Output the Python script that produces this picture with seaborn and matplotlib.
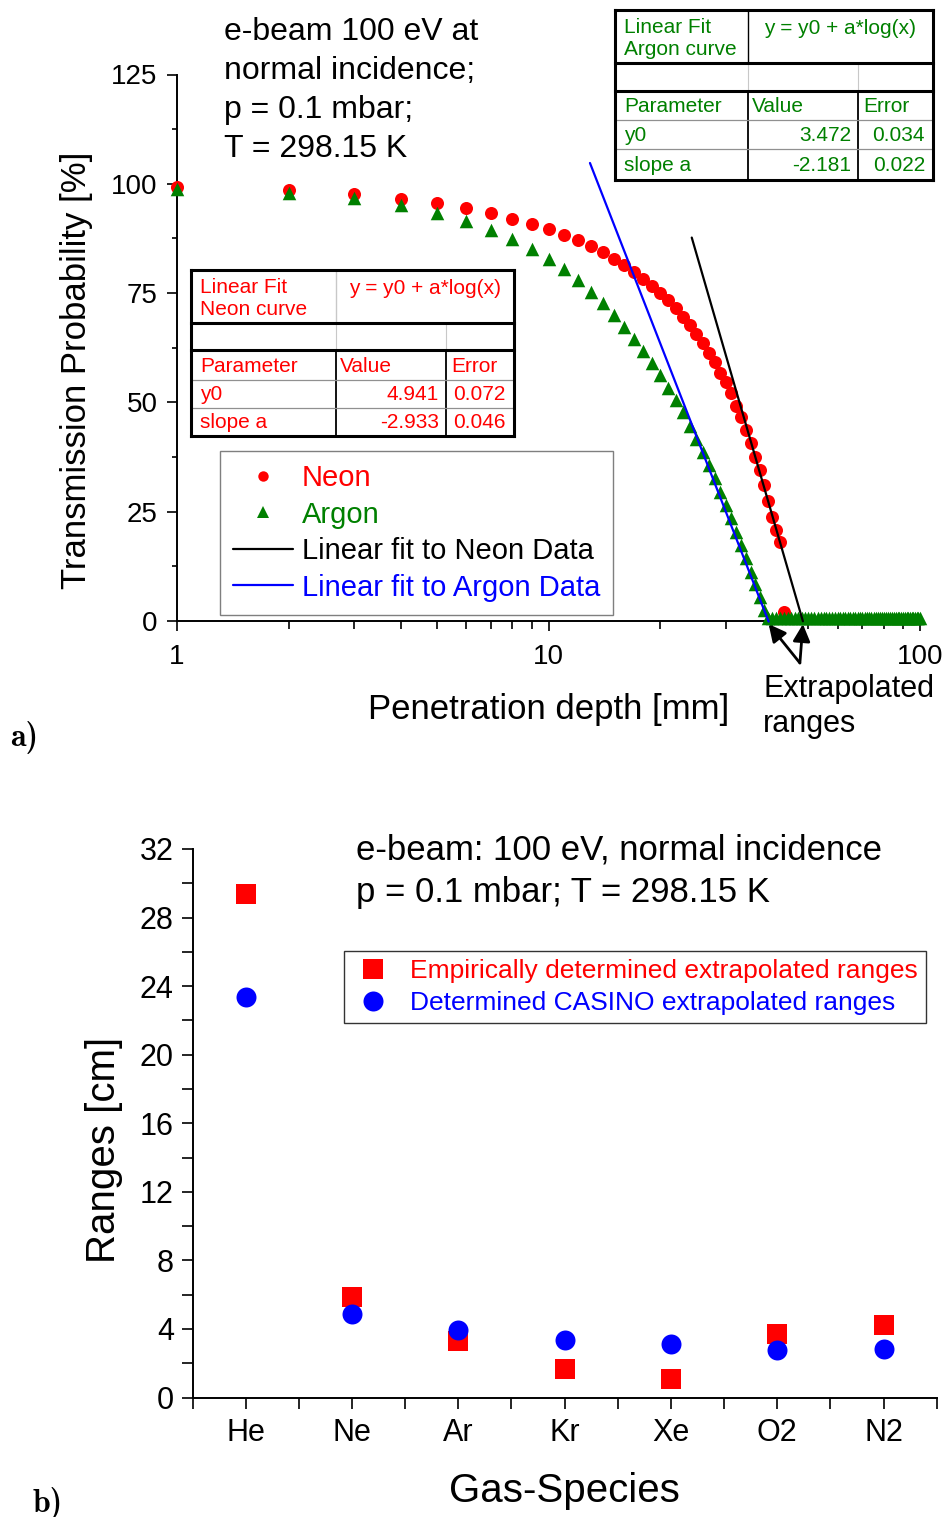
import numpy as np
import matplotlib
matplotlib.use("Agg")
import matplotlib.pyplot as plt
import seaborn as sns
from matplotlib.lines import Line2D
from matplotlib.patches import Rectangle
from matplotlib.ticker import FixedLocator, NullFormatter

# ---------------- data: panel a ----------------
neon_depth = list(range(1, 44))
neon_tp = [99.2, 98.5, 97.6, 96.6, 95.6, 94.4, 93.3, 92.0, 90.9, 89.6,
           88.4, 87.1, 85.8, 84.4, 82.9, 81.4, 79.8, 78.3, 76.6, 75.0,
           73.4, 71.5, 69.5, 67.6, 65.7, 63.5, 61.3, 59.3, 56.8, 54.7,
           52.2, 49.1, 46.7, 43.8, 40.6, 37.5, 34.5, 31.1, 27.5, 23.8,
           20.8, 18.1, 2.1]
argon_depth = list(range(1, 101))
argon_tp = [98.9, 98.0, 96.8, 95.2, 93.4, 91.4, 89.4, 87.4, 85.2, 82.9,
            80.6, 77.9, 75.3, 72.7, 69.9, 67.3, 64.6, 61.8, 59.0, 56.2,
            53.4, 50.5, 47.7, 44.6, 41.7, 38.7, 35.6, 32.6, 29.5, 26.5,
            23.5, 20.4, 17.4, 14.3, 11.3, 8.5, 5.6, 2.5, 0.8, 0.8,
            0.8, 0.8, 0.8, 0.8, 0.8, 0.8, 0.8, 0.8, 0.8, 0.8,
            0.8, 0.8, 0.8, 0.8, 0.8, 0.8, 0.8, 0.8, 0.8, 0.8,
            0.8, 0.8, 0.8, 0.8, 0.8, 0.8, 0.8, 0.8, 0.8, 0.8,
            0.8, 0.8, 0.8, 0.8, 0.8, 0.8, 0.8, 0.8, 0.8, 0.8,
            0.8, 0.8, 0.8, 0.8, 0.8, 0.8, 0.8, 0.8, 0.8, 0.8,
            0.8, 0.8, 0.8, 0.8, 0.8, 0.8, 0.8, 0.8, 0.8, 0.8]

fit_params = ["y0", "slope a"]
neon_fit_value = [4.941, -2.933]
neon_fit_error = [0.072, 0.046]
argon_fit_value = [3.472, -2.181]
argon_fit_error = [0.034, 0.022]
neon_fit_range = [24.3, 48.4]     # mm, drawn extent of the fit line
argon_fit_range = [12.93, 39.13]

# ---------------- data: panel b ----------------
gases = ["He", "Ne", "Ar", "Kr", "Xe", "O2", "N2"]
empirical_range = [29.35, 5.85, 3.32, 1.69, 1.10, 3.69, 4.21]
casino_range = [23.39, 4.88, 3.94, 3.38, 3.12, 2.77, 2.83]

RED, GREEN, BLUE = "#FF0000", "#008000", "#0000FF"

sns.set_theme(style="ticks", rc={
    "axes.edgecolor": "black", "xtick.color": "black", "ytick.color": "black",
    "text.color": "black", "axes.labelcolor": "black",
})
plt.rcParams["font.family"] = ["Liberation Sans", "DejaVu Sans"]

W, H = 947, 1517
fig = plt.figure(figsize=(W / 100, H / 100), dpi=100)
fig.patch.set_facecolor("white")


def fx(px):
    return px / W


def fy(py):
    return 1 - py / H


# ================= panel a =================
ax1 = fig.add_axes([fx(177), fy(621), fx(920) - fx(177), fy(74.5) - fy(621)])
ax1.set_facecolor("white")
ax1.set_xscale("log")

sns.scatterplot(x=neon_depth, y=neon_tp, ax=ax1, color=RED, marker="o",
                s=88, linewidth=0, clip_on=False, zorder=3, legend=False)
sns.scatterplot(x=argon_depth, y=argon_tp, ax=ax1, color=GREEN, marker="^",
                s=95, linewidth=0, clip_on=False, zorder=4, legend=False)

for (y0, a), rng, col in [((neon_fit_value[0], neon_fit_value[1]), neon_fit_range, "black"),
                          ((argon_fit_value[0], argon_fit_value[1]), argon_fit_range, BLUE)]:
    xs = np.geomspace(rng[0], rng[1], 80)
    ys = 100 * (y0 + a * np.log10(xs))
    sns.lineplot(x=xs, y=ys, ax=ax1, color=col, lw=1.6, zorder=5,
                 estimator=None, sort=False, clip_on=False)

ax1.set_xlim(1, 100)
ax1.set_ylim(0, 125)
ax1.set_xticks([1, 10, 100])
ax1.set_xticklabels(["1", "10", "100"])
ax1.xaxis.set_minor_locator(FixedLocator([2, 3, 4, 5, 6, 7, 8, 9,
                                          20, 30, 40, 50, 60, 70, 80, 90]))
ax1.xaxis.set_minor_formatter(NullFormatter())
ax1.set_yticks([0, 25, 50, 75, 100, 125])
ax1.yaxis.set_minor_locator(FixedLocator([12.5, 37.5, 62.5, 87.5, 112.5]))
ax1.tick_params(axis="both", which="major", length=7, width=1.2, labelsize=20)
ax1.tick_params(axis="x", which="minor", length=5.5, width=1.2)
ax1.tick_params(axis="y", which="minor", length=3.5, width=1.2)
ax1.tick_params(axis="x", which="major", pad=9.5)
ax1.tick_params(axis="y", which="major", pad=7)
for sp in ["top", "right"]:
    ax1.spines[sp].set_visible(False)
for sp in ["left", "bottom"]:
    ax1.spines[sp].set_linewidth(1.4)

ax1.set_xlabel("Penetration depth [mm]", fontsize=25)
ax1.set_ylabel("Transmission Probability [%]", fontsize=25)
ax1.xaxis.set_label_coords(0.5, -0.132)
ax1.yaxis.set_label_coords(-0.113, 0.458)

# arrows to the extrapolated ranges
for xr in [argon_fit_range[1], neon_fit_range[1]]:
    ax1.annotate("", xy=(xr, -0.7), xytext=(47.5, -9.6), xycoords="data",
                 textcoords="data", annotation_clip=False,
                 arrowprops=dict(arrowstyle="-|>", color="black", lw=2,
                                 mutation_scale=26, shrinkA=0, shrinkB=0))

fig.text(fx(763), fy(674), "Extrapolated\nranges", fontsize=22, ha="left", va="top")
fig.text(fx(224), fy(17), "e-beam 100 eV at\nnormal incidence;\np = 0.1 mbar;\nT = 298.15 K",
         fontsize=23, ha="left", va="top", linespacing=1.39)

leg_handles = [
    Line2D([], [], marker="o", ls="none", color=RED, ms=7.5, mew=0),
    Line2D([], [], marker="^", ls="none", color=GREEN, ms=9, mew=0),
    Line2D([], [], color="black", lw=1.6),
    Line2D([], [], color=BLUE, lw=1.6),
]
leg_labels = ["Neon", "Argon", "Linear fit to Neon Data", "Linear fit to Argon Data"]
leg1 = ax1.legend(leg_handles, leg_labels, loc="upper left",
                  bbox_to_anchor=(fx(220), fy(451)), bbox_transform=fig.transFigure,
                  borderaxespad=0, fontsize=21, frameon=True, fancybox=False,
                  framealpha=1, edgecolor="#7f7f7f", borderpad=0.45,
                  handlelength=2.05, handletextpad=0.3, labelspacing=0.29,
                  labelcolor=["#FF0000", GREEN, "black", BLUE])
leg1.get_frame().set_linewidth(1.0)


# ---------------- fit tables ----------------
def draw_table(cols, rows, color, curve_name, values, errors, header_sep_color):
    fig.add_artist(Rectangle((fx(cols[0]), fy(rows[-1])), fx(cols[-1]) - fx(cols[0]),
                             fy(rows[0]) - fy(rows[-1]), transform=fig.transFigure,
                             facecolor="white", edgecolor="none", zorder=10))

    def line(x0, y0, x1, y1, lw, c):
        fig.add_artist(Line2D([fx(x0), fx(x1)], [fy(y0), fy(y1)], transform=fig.transFigure,
                              lw=lw, color=c, zorder=11, solid_capstyle="projecting"))

    # internal thin lines
    line(cols[1], rows[0], cols[1], rows[1], 1.0, header_sep_color)
    line(cols[1], rows[1], cols[1], rows[2], 0.8, "#c8c8c8")
    line(cols[2], rows[1], cols[2], rows[2], 0.8, "#c8c8c8")
    line(cols[1], rows[2], cols[1], rows[5], 1.3, "black")
    line(cols[2], rows[2], cols[2], rows[5], 1.3, "black")
    line(cols[0], rows[3], cols[3], rows[3], 0.9, "#909090")
    line(cols[0], rows[4], cols[3], rows[4], 0.9, "#909090")
    # thick lines
    for r in [rows[1], rows[2]]:
        line(cols[0], r, cols[3], r, 2.2, "black")
    line(cols[0], rows[0], cols[3], rows[0], 2.2, "black")
    line(cols[0], rows[5], cols[3], rows[5], 2.2, "black")
    line(cols[0], rows[0], cols[0], rows[5], 2.2, "black")
    line(cols[3], rows[0], cols[3], rows[5], 2.2, "black")

    fs = 15
    kw = dict(fontsize=fs, color=color, zorder=12)
    fig.text(fx(cols[0] + 9), fy((rows[0] + rows[1]) / 2 + 2), "Linear Fit\n" + curve_name,
             ha="left", va="center", linespacing=1.25, **kw)
    fig.text(fx((cols[1] + cols[3]) / 2), fy(rows[0] + 18), "y = y0 + a*log(x)",
             ha="center", va="center", **kw)
    yc = [(rows[i] + rows[i + 1]) / 2 + 1 for i in range(2, 5)]
    fig.text(fx(cols[0] + 9), fy(yc[0]), "Parameter", ha="left", va="center", **kw)
    fig.text(fx(cols[1] + 4), fy(yc[0]), "Value", ha="left", va="center", **kw)
    fig.text(fx(cols[2] + 5), fy(yc[0]), "Error", ha="left", va="center", **kw)
    for i, p in enumerate(fit_params):
        fig.text(fx(cols[0] + 9), fy(yc[i + 1]), p, ha="left", va="center", **kw)
        fig.text(fx(cols[2] - 7), fy(yc[i + 1]), f"{values[i]:.3f}", ha="right", va="center", **kw)
        fig.text(fx(cols[3] - 8), fy(yc[i + 1]), f"{errors[i]:.3f}", ha="right", va="center", **kw)


draw_table([615, 748, 858, 933], [10, 63, 91, 120, 149, 180], GREEN, "Argon curve",
           argon_fit_value, argon_fit_error, "black")
draw_table([191, 336, 446, 514], [270, 323, 350, 380, 408, 436], RED, "Neon curve",
           neon_fit_value, neon_fit_error, "#c8c8c8")

# ================= panel b =================
ax2 = fig.add_axes([fx(192.5), fy(1397.5), fx(936.8) - fx(192.5), fy(849) - fy(1397.5)])
ax2.set_facecolor("white")
sns.scatterplot(x=gases, y=empirical_range, ax=ax2, marker="s", color=RED, s=207,
                linewidth=0, zorder=3, clip_on=False, legend=False)
sns.scatterplot(x=gases, y=casino_range, ax=ax2, marker="o", color=BLUE, s=207,
                linewidth=0, zorder=4, clip_on=False, legend=False)
ax2.set_xlim(-0.5, 6.5)
ax2.set_ylim(0, 32)
ax2.set_xticks(range(len(gases)))
ax2.set_xticklabels(gases)
ax2.xaxis.set_minor_locator(FixedLocator([-0.5, 0.5, 1.5, 2.5, 3.5, 4.5, 5.5, 6.5]))
ax2.set_yticks(range(0, 33, 4))
ax2.yaxis.set_minor_locator(FixedLocator(list(range(2, 32, 4))))
ax2.tick_params(axis="both", which="both", length=8, width=1.2)
ax2.tick_params(axis="both", which="major", labelsize=22)
ax2.tick_params(axis="x", which="major", pad=7)
ax2.tick_params(axis="y", which="major", pad=5.5)
for sp in ["top", "right"]:
    ax2.spines[sp].set_visible(False)
for sp in ["left", "bottom"]:
    ax2.spines[sp].set_linewidth(1.4)
ax2.set_xlabel("Gas-Species", fontsize=29)
ax2.set_ylabel("Ranges [cm]", fontsize=29)
ax2.xaxis.set_label_coords(0.5, -0.136)
ax2.yaxis.set_label_coords(-0.0934, 0.451)

fig.text(fx(356), fy(834), "e-beam: 100 eV, normal incidence\np = 0.1 mbar; T = 298.15 K",
         fontsize=25, ha="left", va="top", linespacing=1.36)

leg2_handles = [
    Line2D([], [], marker="s", ls="none", color=RED, ms=14.4, mew=0),
    Line2D([], [], marker="o", ls="none", color=BLUE, ms=14.4, mew=0),
]
leg2 = ax2.legend(leg2_handles, ["Empirically determined extrapolated ranges",
                                 "Determined CASINO extrapolated ranges"],
                  loc="upper left", bbox_to_anchor=(fx(344), fy(951)),
                  bbox_transform=fig.transFigure, borderaxespad=0, fontsize=19,
                  frameon=True, fancybox=False, framealpha=1, edgecolor="#333333",
                  borderpad=0.3, handlelength=1.6, handletextpad=0.62,
                  labelspacing=0.32, labelcolor=[RED, BLUE])
leg2.get_frame().set_linewidth(1.0)

# panel letters
fig.text(fx(10), fy(737), "a)", fontsize=23, family="cmb10", ha="left", va="center")
fig.text(fx(33), fy(1503), "b)", fontsize=23, family="cmb10", ha="left", va="center")

fig.savefig("out.png", dpi=100, facecolor="white")
